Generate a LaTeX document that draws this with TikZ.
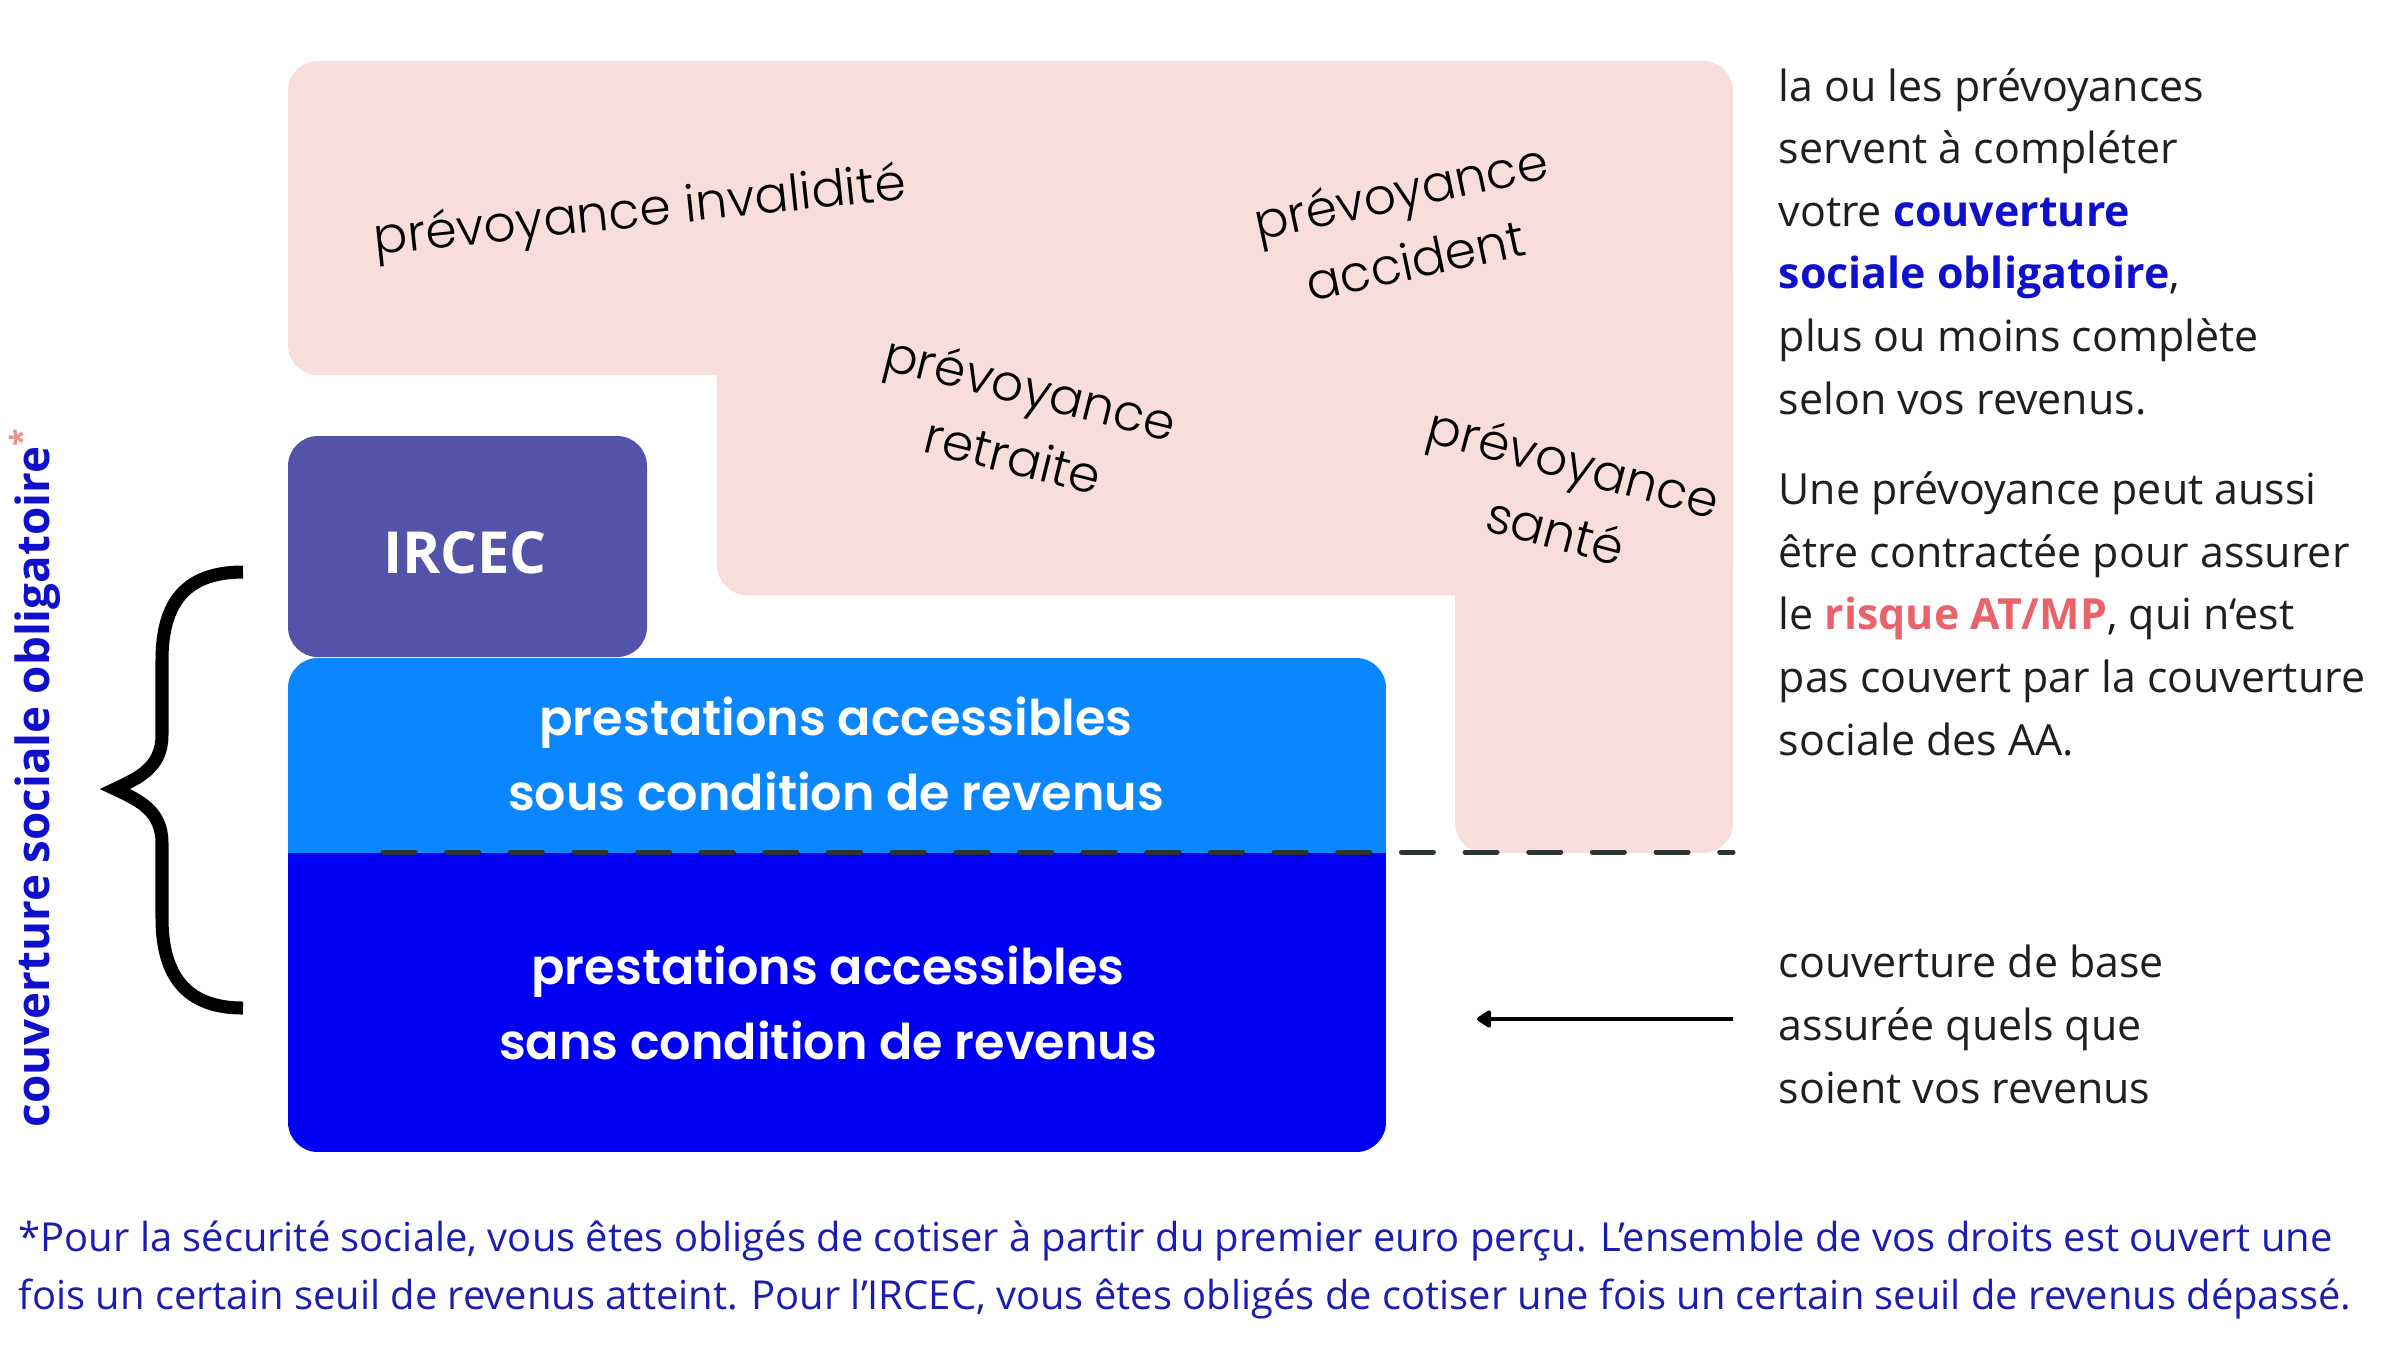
\documentclass[tikz,border=0pt]{standalone}
\usepackage{fontspec}
\setmainfont{Open Sans}
\IfFontExistsTF{Poppins Light}{\newfontfamily\labfont{Poppins Light}}{\newfontfamily\labfont{Poppins}}
\IfFontExistsTF{Poppins SemiBold}{\newfontfamily\boxfont{Poppins SemiBold}}{\newfontfamily\boxfontx{Poppins}\newcommand\boxfont{\boxfontx\bfseries}}
\usetikzlibrary{arrows.meta}
\definecolor{pinkbg}{HTML}{F8DEDB}
\definecolor{ircec}{HTML}{5353A9}
\definecolor{lblue}{HTML}{0A86FF}
\definecolor{dblue}{HTML}{0000F5}
\definecolor{dashc}{HTML}{2D3436}
\definecolor{txt}{HTML}{1F1F1F}
\definecolor{bblue}{HTML}{1010CC}
\definecolor{fblue}{HTML}{1C1CB0}
\definecolor{coral}{HTML}{E9636B}
\definecolor{astc}{HTML}{E8928B}
\tikzset{
  pinklab/.style={font={\labfont\fontsize{14.3pt}{20pt}\selectfont}, text=black, align=center, inner sep=0pt},
  boxlab/.style={font={\boxfont\fontsize{14pt}{21.3pt}\selectfont}, text=white, align=center, inner sep=0pt, anchor=base},
  sidetext/.style={font={\fontsize{12.2pt}{17.8pt}\selectfont}, text=txt, align=left, inner sep=0pt, anchor=base west},
  foottext/.style={font={\fontsize{11.35pt}{16.5pt}\selectfont}, text=fblue, align=left, inner sep=0pt, anchor=base west},
  pinkfill/.style={fill=pinkbg, rounded corners=8.5pt},
}
\begin{document}
\begin{tikzpicture}[x=0.01cm, y=-0.01cm]
\useasboundingbox (0,0) rectangle (2400,1350);
% pink prevoyance area (union of three rounded rectangles)
\fill[pinkfill] (288,61) rectangle (1733,375);
\fill[pinkfill] (717,250) rectangle (1733,595);
\fill[pinkfill] (1455,250) rectangle (1733,853);
% IRCEC box
\fill[ircec, rounded corners=8.5pt] (288,436) rectangle (647,657);
% blue boxes
\begin{scope}
  \clip[rounded corners=8.5pt] (288,658) rectangle (1386,1152);
  \fill[lblue] (288,658) rectangle (1386,853);
  \fill[dblue] (288,853) rectangle (1386,1152);
\end{scope}
% dashed separator
\coordinate (dashL) at (383,852);
\coordinate (dashR) at (1733,852);
\draw[dashc, line width=1.42pt, line cap=round, dash pattern=on 9.1pt off 9pt] (dashL) -- (dashR);
% arrow
\coordinate (arrS) at (1733,1019);
\coordinate (arrE) at (1477,1019);
\draw[black, line width=1.4pt, -{Triangle[length=4.5pt,width=5.6pt,round]}] (arrS) -- (arrE);
% brace
\draw[black, line width=3.7pt, line join=miter, miter limit=10]
  (243,572) .. controls (190,572) and (162,598) .. (162,660) -- (162,735)
  .. controls (162,768) and (138,778) .. (115,789)
  .. controls (138,800) and (162,810) .. (162,843) -- (162,918)
  .. controls (162,980) and (190,1008) .. (243,1008);
% vertical label
\node[rotate=90, anchor=base west, inner sep=0pt, text=bblue, font={\bfseries\fontsize{13pt}{15pt}\selectfont}] (vlab) at (49,1128) {couverture sociale obligatoire{\color{astc}\textsuperscript{*}}};
% pink labels
\node[pinklab, rotate=6] (inval) at (640,214) {prévoyance invalidité};
\node[pinklab, rotate=12] (accid) at (1408,225) {prévoyance\\accident};
\node[pinklab, rotate=-14] (retr) at (1022,421) {prévoyance\\retraite};
\node[pinklab, rotate=-15] (sante) at (1565,496) {prévoyance\\santé};
% IRCEC text
\node[anchor=base, inner sep=0pt, text=white, font={\bfseries\fontsize{16.5pt}{18pt}\selectfont}] (ircectxt) at (465,573) {IRCEC};
% box labels (anchored at the baseline of their last line)
\node[boxlab] (sous) at (836,810) {prestations accessibles\\sous condition de revenus};
\node[boxlab] (sans) at (828,1059) {prestations accessibles\\sans condition de revenus};
% side texts (anchored at the baseline of their last line)
\node[sidetext] (p1) at (1778,414) {la ou les prévoyances\\servent à compléter\\votre {\bfseries\color{bblue}couverture}\\{\bfseries\color{bblue}sociale obligatoire},\\plus ou moins complète\\selon vos revenus.};
\node[sidetext] (p2) at (1778,755) {Une prévoyance peut aussi\\être contractée pour assurer\\le {\bfseries\color{coral}risque AT/MP}, qui n‘est\\pas couvert par la couverture\\sociale des AA.};
\node[sidetext] (p3) at (1778,1103) {couverture de base\\assurée quels que\\soient vos revenus};
% footnote
\node[foottext] (foot) at (18,1309) {*Pour la sécurité sociale, vous êtes obligés de cotiser à partir du premier euro perçu. L’ensemble de vos droits est ouvert une\\fois un certain seuil de revenus atteint. Pour l’IRCEC, vous êtes obligés de cotiser une fois un certain seuil de revenus dépassé.};
\end{tikzpicture}
\end{document}
